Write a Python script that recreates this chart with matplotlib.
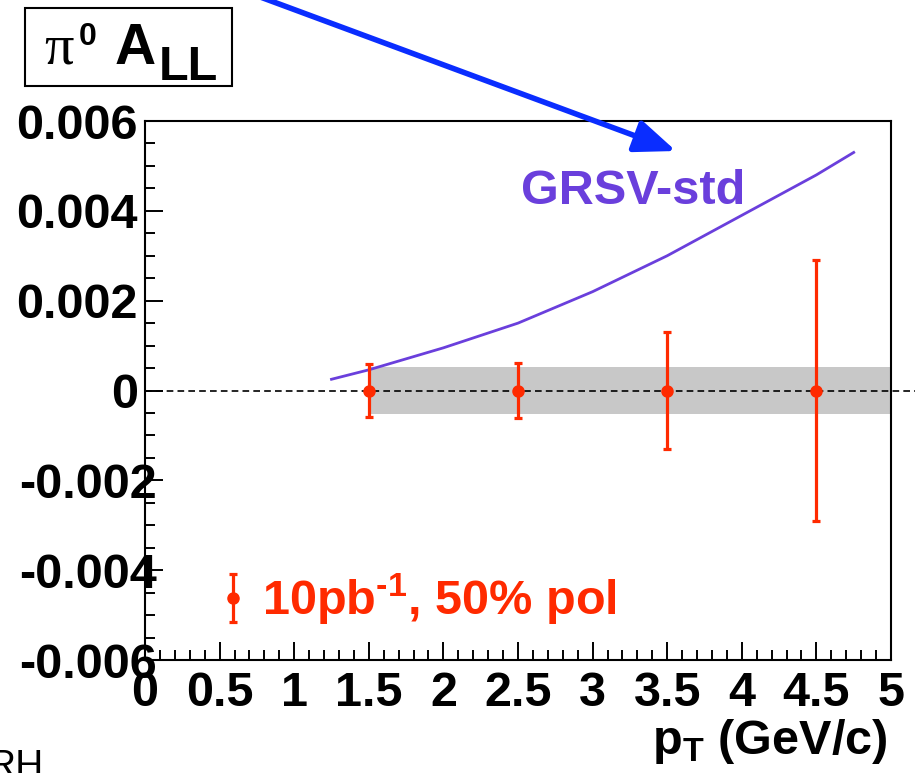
import matplotlib
matplotlib.use("Agg")
import matplotlib.pyplot as plt
from matplotlib.patches import Rectangle
from matplotlib.transforms import ScaledTranslation

plt.rcParams['font.family'] = ['Liberation Sans', 'DejaVu Sans']
plt.rcParams['font.weight'] = 'bold'
plt.rcParams['axes.unicode_minus'] = False
plt.rcParams['mathtext.fontset'] = 'custom'
plt.rcParams['mathtext.rm'] = 'Liberation Sans:bold'
plt.rcParams['mathtext.bf'] = 'Liberation Sans:bold'
plt.rcParams['mathtext.default'] = 'bf'

# data
pt = [1.5, 2.5, 3.5, 4.5]
asym = [0.0, 0.0, 0.0, 0.0]
stat_err = [0.00059, 0.00062, 0.0013, 0.0029]
sys_x = [1.5, 5.0]
sys_err = 0.00052

grsv_pt = [1.25, 1.5, 2.0, 2.5, 3.0, 3.5, 4.0, 4.5, 4.75]
grsv_all = [0.00025, 0.00046, 0.00095, 0.0015, 0.0022, 0.0030, 0.0039, 0.0048, 0.0053]

xticks = [0, 0.5, 1, 1.5, 2, 2.5, 3, 3.5, 4, 4.5, 5]
xtick_labels = ['0', '0.5', '1', '1.5', '2', '2.5', '3', '3.5', '4', '4.5', '5']
yticks = [-0.006, -0.004, -0.002, 0, 0.002, 0.004, 0.006]
ytick_labels = ['-0.006', '-0.004', '-0.002', '0', '0.002', '0.004', '0.006']

red = '#ff2a00'
purple = '#6a3fdc'
W, H = 922, 773

fig = plt.figure(figsize=(W / 100, H / 100), dpi=100)
ax = fig.add_axes([145 / W, 1 - 660 / H, 746 / W, 539 / H])
ax.set_xlim(0, 5)
ax.set_ylim(-0.006, 0.006)

# systematic band
ax.fill_between(sys_x, -sys_err, sys_err, color='#c8c8c8', lw=0, zorder=1)
# zero line, runs past the frame on the right
ax.axhline(0, xmin=0, xmax=1.032, color='black', lw=1.2, ls=(0, (4, 2.5)),
           clip_on=False, zorder=2)
# theory curve
ax.plot(grsv_pt, grsv_all, color=purple, lw=2, zorder=3)
ax.text(3.27, 0.00443, 'GRSV-std', color=purple, fontsize=35, ha='center', va='center')

eb = ax.errorbar(pt, asym, yerr=stat_err, fmt='o', color=red, ms=8, elinewidth=2.3,
                 capsize=3, capthick=2.3, zorder=4, label='10pb$^{\u20101}$, 50% pol')
leg = ax.legend(handles=[eb], loc='lower left', bbox_to_anchor=(0.066, 0.016),
                frameon=False, fontsize=35, labelcolor=red, handlelength=0.6,
                handletextpad=0.3, borderpad=0)

ax.set_xticks(xticks)
ax.set_xticklabels(xtick_labels)
ax.set_yticks(yticks)
ax.set_yticklabels(ytick_labels)
ax.set_xticks([i / 10 for i in range(51)], minor=True)
ax.set_yticks([i * 0.0005 - 0.006 for i in range(25)], minor=True)
ax.tick_params(which='both', direction='in', width=1.4, labelsize=35)
ax.tick_params(which='major', length=13)
ax.tick_params(which='minor', length=7)
ax.tick_params(axis='y', pad=5)
ax.tick_params(axis='x', pad=8)
for s in ax.spines.values():
    s.set_linewidth(1.5)

# negative labels sit further right, the minus hangs over the frame
for lab in ax.get_yticklabels():
    if lab.get_text().startswith('-'):
        lab.set_transform(lab.get_transform() + ScaledTranslation(19 / 100, 0, fig.dpi_scale_trans))

fig.text(888 / W, 1 - 742 / H, r'p$_{\mathbf{T}}$ (GeV/c)', fontsize=35,
         ha='right', va='center')

# title box
fig.add_artist(Rectangle((25 / W, 1 - 86 / H), 207 / W, 78 / H, fill=False,
                         lw=1.5, ec='black', transform=fig.transFigure))
fig.text(44 / W, 1 - 64 / H, 'π', family='Liberation Serif', weight='normal',
         fontsize=42, ha='left', va='baseline')
fig.text(79 / W, 1 - 45 / H, '0', fontsize=23, ha='left', va='baseline')
fig.text(115 / W, 1 - 64 / H, 'A', fontsize=41, ha='left', va='baseline')
fig.text(159 / W, 1 - 80 / H, 'LL', fontsize=35, ha='left', va='baseline')

# arrow pointing at the curve
ax.annotate('', xy=(676, H - 151), xycoords='figure pixels',
            xytext=(236, H + 12), textcoords='figure pixels',
            arrowprops=dict(arrowstyle='-|>,head_length=2.5,head_width=1.0',
                            color='#0a2dff', lw=4, shrinkA=0, shrinkB=0),
            annotation_clip=False)

fig.text(-12 / W, 1 - 749 / H, 'RH', fontsize=28, weight='normal', ha='left', va='top')

fig.savefig('out.png', dpi=100)
